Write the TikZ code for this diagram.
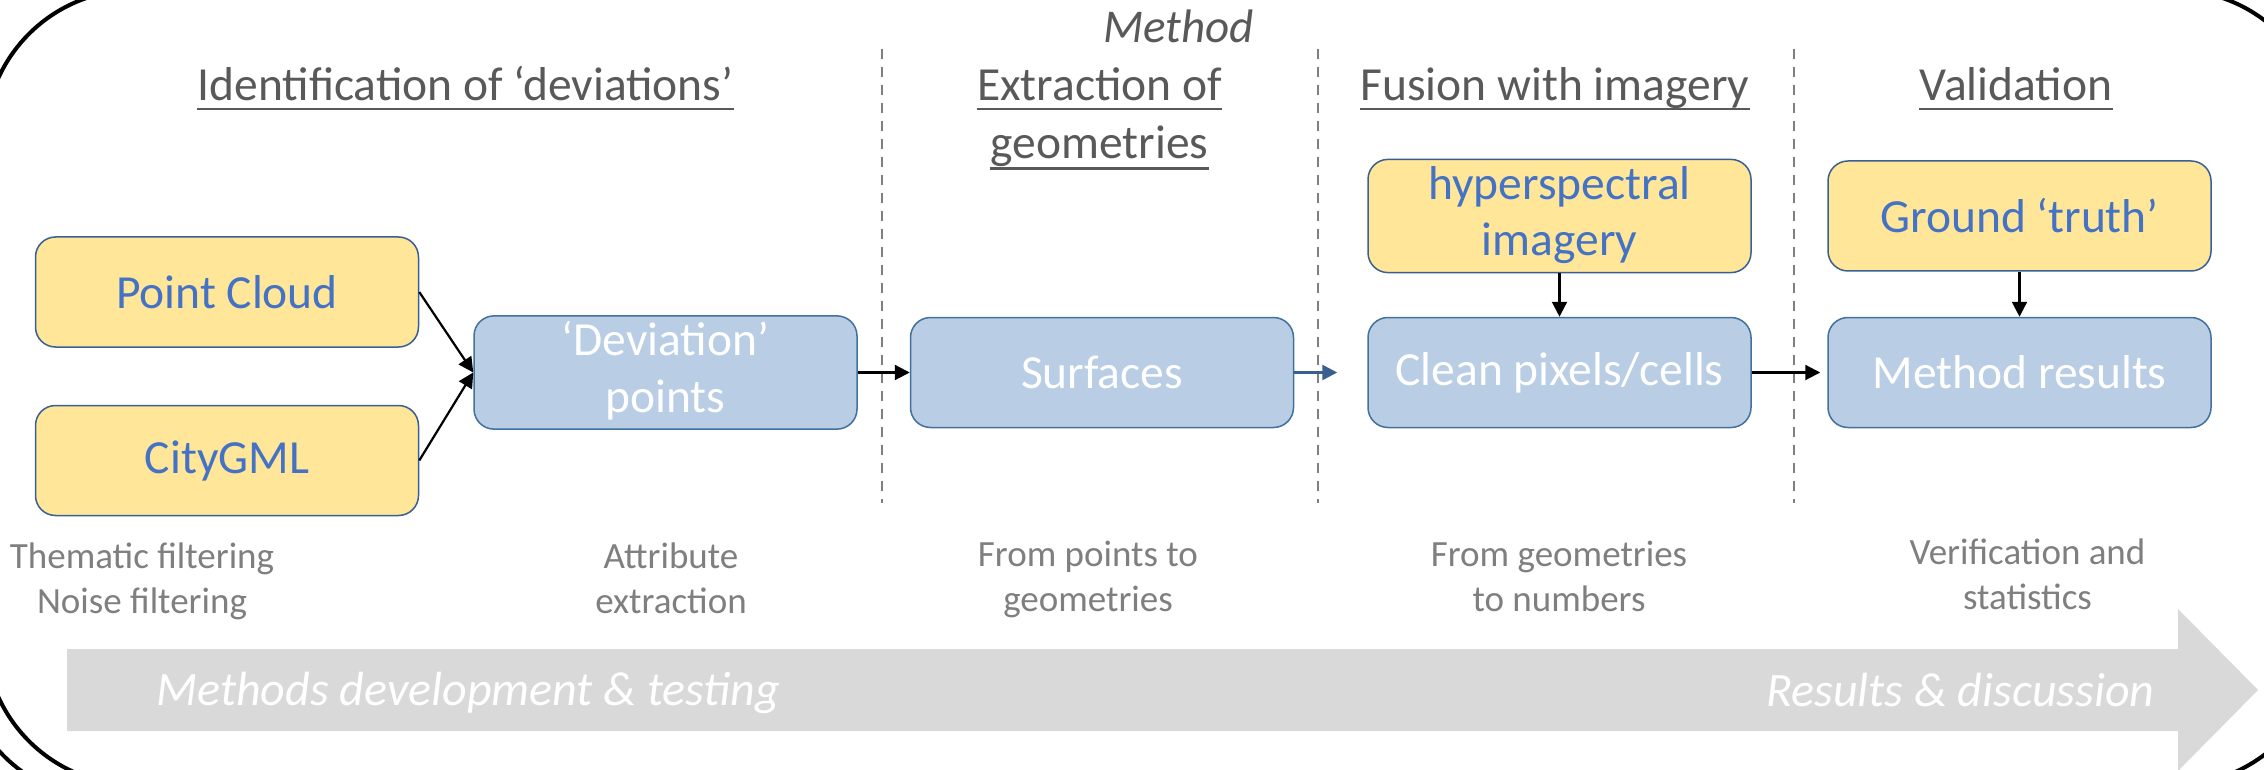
\documentclass[tikz,border=0pt]{standalone}
\usepackage{fontspec}
\setmainfont{Carlito}
\usetikzlibrary{arrows.meta}
\definecolor{hgray}{HTML}{595959}
\definecolor{lgray}{HTML}{7F7F7F}
\definecolor{yfill}{HTML}{FFE699}
\definecolor{ydraw}{HTML}{3A5F95}
\definecolor{bfill}{HTML}{B9CDE5}
\definecolor{bdraw}{HTML}{41719C}
\definecolor{btext}{HTML}{4472C4}
\definecolor{barrow}{HTML}{3A5F8F}
\definecolor{garrow}{HTML}{D9D9D9}
\begin{document}
\begin{tikzpicture}[x=0.5pt,y=-0.5pt,
  boxbase/.style={draw, rounded corners=10pt, minimum width=191.5pt, minimum height=55pt,
    inner sep=0pt, align=center, line width=0.75pt, font=\fontsize{23.75}{28.3}\selectfont},
  ybox/.style={boxbase, fill=yfill, draw=ydraw, text=btext},
  bbox/.style={boxbase, fill=bfill, draw=bdraw, text=white},
  head/.style={anchor=base, inner sep=0pt, text=hgray, font=\fontsize{23.75}{28.3}\selectfont},
  mtitle/.style={anchor=base, inner sep=0pt, text=hgray, font=\fontsize{23.5}{28}\selectfont\itshape},
  ul/.style={draw=hgray, line width=1.1pt},
  lab/.style={anchor=base, inner sep=0pt, align=center, text=lgray, font=\fontsize{18.5}{22.5}\selectfont},
  atext/.style={inner sep=0pt, text=white, font=\fontsize{24}{28}\selectfont\itshape},
  arr/.style={draw=black, line width=1.1pt, -{Triangle[length=7.5pt,width=7.5pt]}},
  barr/.style={draw=barrow, line width=1.3pt, -{Triangle[length=7.5pt,width=7.5pt]}},
  sep/.style={draw=lgray, line width=1pt, dash pattern=on 5pt off 4pt},
  frame/.style={draw=black, line width=2pt}
]
\useasboundingbox (0,0) rectangle (2264,770);
\clip (0,0) rectangle (2264,770);
\fill[white] (0,0) rectangle (2264,770);

% big grey progress arrow
\fill[garrow] (67,649) -- (2178,649) -- (2178,609) -- (2258,690) -- (2178,771) -- (2178,731) -- (67,731) -- cycle;
\node[atext, anchor=base west] (t1) at (156,705) {Methods development \& testing};
\node[atext, anchor=base east] (t2) at (2155,706) {Results \& discussion};

% outer frame
\draw[frame, rounded corners=75pt] (-15,-10) rectangle (2324,785);
\draw[frame] (110,650) ++(115:150) arc[start angle=115, end angle=150, radius=150];

% separators
\coordinate (d1t) at (882,49);  \coordinate (d1b) at (882,503);
\coordinate (d2t) at (1318,49); \coordinate (d2b) at (1318,503);
\coordinate (d3t) at (1794,49); \coordinate (d3b) at (1794,503);
\draw[sep] (d1t) -- (d1b);
\draw[sep] (d2t) -- (d2b);
\draw[sep] (d3t) -- (d3b);

% headings
\node[mtitle] (mt) at (1178.6,43) {Method};
\node[head] (h1) at (465.5,101) {Identification of ‘deviations’};
\node[head] (h2a) at (1099.5,101) {Extraction of};
\node[head] (h2b) at (1099.5,158.5) {geometries};
\node[head] (h3) at (1555,101) {Fusion with imagery};
\node[head] (h4) at (2016,101) {Validation};
\foreach \n in {h1,h2a,h3,h4}
  \draw[ul] ([yshift=-4pt]\n.base west) -- ([yshift=-4pt]\n.base east);
\draw[ul] ([yshift=-5pt]h2b.base west) -- ([yshift=-5pt]h2b.base east);

% boxes
\node[ybox] (pc) at (227,292) {Point Cloud};
\node[ybox] (gml) at (227,460.5) {CityGML};
\node[bbox] (dev) at (665.5,372.5) {\strut‘Deviation’\\points\strut};
\node[bbox] (surf) at (1102,372.5) {Surfaces};
\node[ybox] (hyp) at (1559.5,216) {\strut hyperspectral\\imagery\strut};
\node[bbox] (clean) at (1559.5,372.5) {Clean pixels/cells};
\node[ybox] (gt) at (2019.5,216) {Ground ‘truth’};
\node[bbox] (mres) at (2019.5,372.5) {Method results};

% connectors
\draw[arr] (pc.east) -- (dev.west);
\draw[arr] (gml.east) -- (dev.west);
\draw[arr] (dev.east) -- (surf.west);
\draw[barr, shorten >=15pt] (surf.east) -- (clean.west);
\draw[arr] (hyp.south) -- (clean.north);
\draw[arr, shorten >=3.5pt] (clean.east) -- (mres.west);
\draw[arr] (gt.south) -- (mres.north);

% bottom labels (anchor = baseline of the last line)
\node[lab] (l1) at (142,613) {Thematic filtering\\Noise filtering};
\node[lab] (l2) at (671,613) {Attribute\\extraction};
\node[lab] (l3) at (1088,611) {From points to\\geometries};
\node[lab] (l4) at (1559,611) {From geometries\\to numbers};
\node[lab] (l5) at (2027.5,609) {Verification and\\statistics};
\end{tikzpicture}
\end{document}
